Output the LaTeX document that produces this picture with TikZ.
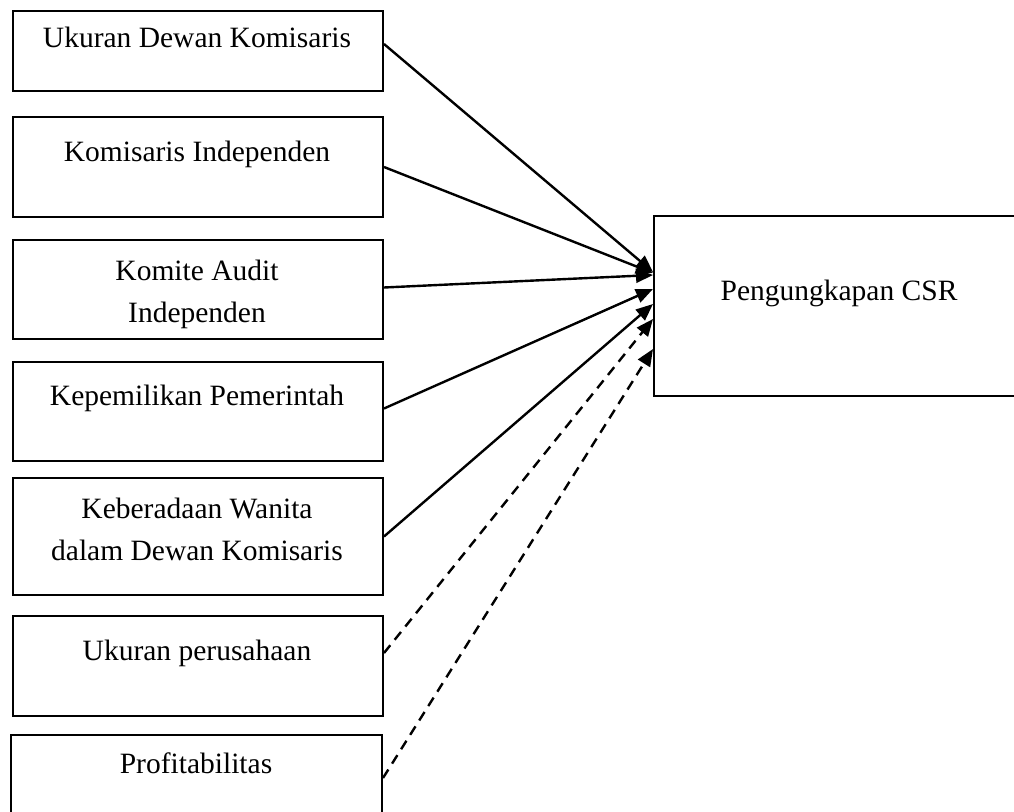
\documentclass[tikz,border=0pt]{standalone}
\usepackage{fontspec}
\setmainfont{Liberation Serif}
\usetikzlibrary{arrows.meta,calc}
\begin{document}
\begin{tikzpicture}[x=1pt,y=-1pt,
  box/.style={draw, line width=2pt, inner sep=0pt, anchor=north west},
  lbl/.style={font=\fontsize{29.5}{42}\selectfont, align=center, inner sep=0pt, anchor=base},
  arr/.style={line width=2.4pt, -{Triangle[length=17pt,width=14pt]}},
  darr/.style={arr, dash pattern=on 10pt off 7pt}]
\useasboundingbox (0,0) rectangle (1014,811);
\clip (0,0) rectangle (1014,811);
% boxes
\node[box, minimum width=370pt, minimum height=80pt] (b1) at (12,10) {};
\node[box, minimum width=370pt, minimum height=100pt] (b2) at (12,116) {};
\node[box, minimum width=370pt, minimum height=99pt] (b3) at (12,239) {};
\node[box, minimum width=370pt, minimum height=99pt] (b4) at (12,361) {};
\node[box, minimum width=370pt, minimum height=117pt] (b5) at (12,477) {};
\node[box, minimum width=370pt, minimum height=100pt] (b6) at (12,615) {};
\node[box, minimum width=371pt, minimum height=100pt] (b7) at (10,734) {};
\node[box, minimum width=420pt, minimum height=180pt] (csr) at (653,215) {};
% labels
\node[lbl] (t1) at (197,47) {Ukuran Dewan Komisaris};
\node[lbl] (t2) at (197,161) {Komisaris Independen};
\node[lbl] (t3) at (197,322) {Komite Audit\\Independen};
\node[lbl] (t4) at (197,405) {Kepemilikan Pemerintah};
\node[lbl] (t5) at (197,560) {Keberadaan Wanita\\dalam Dewan Komisaris};
\node[lbl] (t6) at (197,660) {Ukuran perusahaan};
\node[lbl] (t7) at (196,773) {Profitabilitas};
\node[lbl] (t8) at (839,300) {Pengungkapan CSR};
% connectors
\draw[arr] ($(b1.east)+(0,-7)$) -- ($(csr.west)+(0,-34)$);
\draw[arr] (b2.east) -- ($(csr.west)+(0,-33)$);
\draw[arr] ($(b3.east)+(0,-2)$) -- ($(csr.west)+(0,-31)$);
\draw[arr] ($(b4.east)+(0,-3)$) -- ($(csr.west)+(0,-17)$);
\draw[arr] (b5.east) -- ($(csr.west)+(0,-2)$);
\draw[darr] ($(b6.east)+(0,-13)$) -- ($(csr.west)+(0,13)$);
\draw[darr] ($(b7.east)+(0,-7)$) -- ($(csr.west)+(0,43)$);
\end{tikzpicture}
\end{document}
